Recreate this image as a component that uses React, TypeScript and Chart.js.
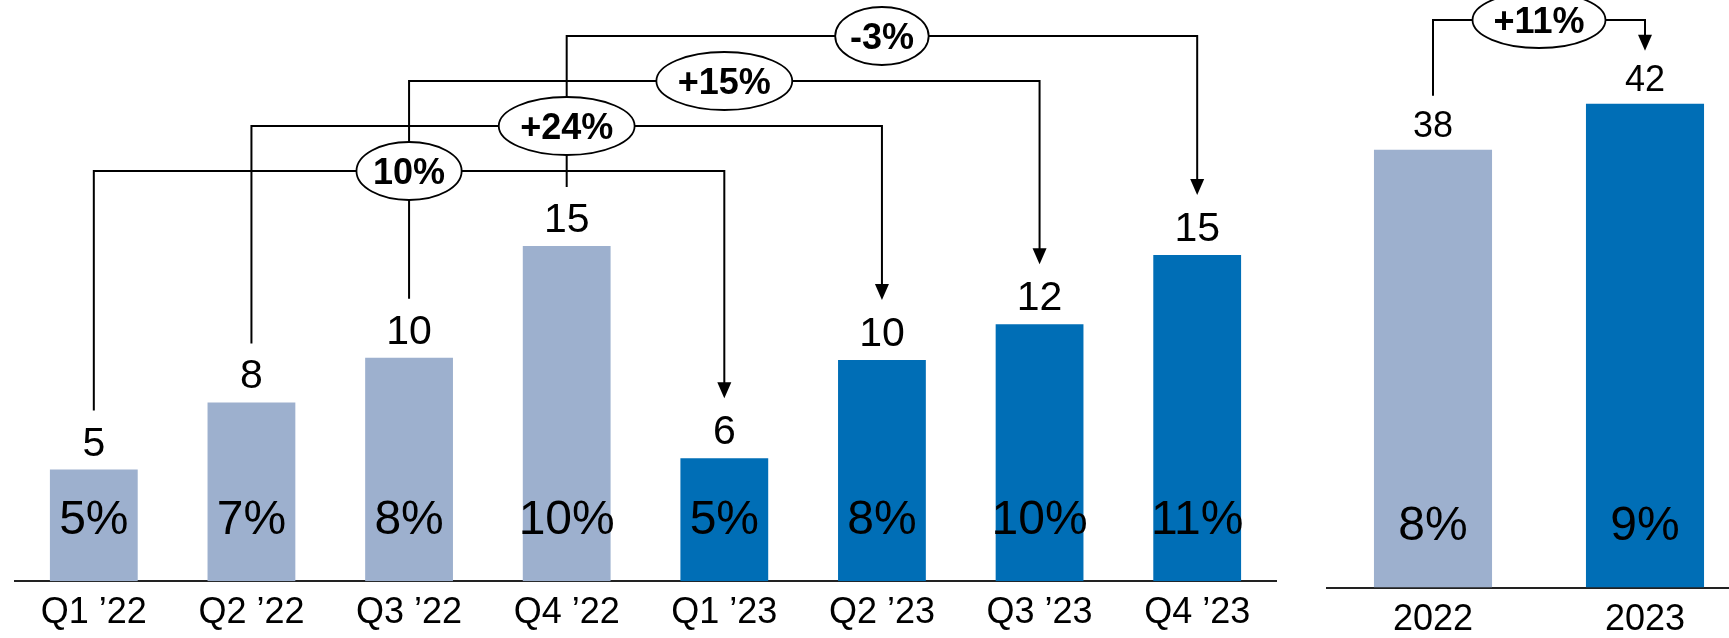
import { useEffect, useRef } from 'react';
import { Chart, registerables } from 'chart.js';

Chart.register(...registerables);

const FONT = '"Liberation Sans", Arial, Helvetica, sans-serif';
const LIGHT = '#9DB0CE';
const DARK = '#006EB6';

// Quarterly panel
const quarterLabels = ['Q1 ’22', 'Q2 ’22', 'Q3 ’22', 'Q4 ’22', 'Q1 ’23', 'Q2 ’23', 'Q3 ’23', 'Q4 ’23'];
const quarterValues = [5, 8, 10, 15, 5.5, 9.9, 11.5, 14.6];
const quarterMargins = ['5%', '7%', '8%', '10%', '5%', '8%', '10%', '11%'];
const growthFrom = [0, 1, 2, 3];
const growthTo = [4, 5, 6, 7];
const growthLabels = ['10%', '+24%', '+15%', '-3%'];

// Annual panel
const yearLabels = ['2022', '2023'];
const yearValues = [38, 42];
const yearMargins = ['8%', '9%'];
const yearGrowthLabel = '+11%';

function arrowHead(ctx: CanvasRenderingContext2D, x: number, tipY: number) {
  ctx.beginPath();
  ctx.moveTo(x - 7, tipY - 16);
  ctx.lineTo(x + 7, tipY - 16);
  ctx.lineTo(x, tipY);
  ctx.closePath();
  ctx.fill();
}

function bubble(ctx: CanvasRenderingContext2D, x: number, y: number, text: string, ry: number) {
  ctx.font = `bold 36px ${FONT}`;
  const tw = ctx.measureText(text).width;
  const rx = tw * 0.73;
  ctx.beginPath();
  ctx.ellipse(x, y, rx, ry, 0, 0, Math.PI * 2);
  ctx.fillStyle = '#fff';
  ctx.fill();
  ctx.lineWidth = 1.8;
  ctx.strokeStyle = '#000';
  ctx.stroke();
  ctx.fillStyle = '#000';
  ctx.textAlign = 'center';
  ctx.textBaseline = 'alphabetic';
  ctx.fillText(text, x, y + 12.5);
}

const quarterPlugin = {
  id: 'quarterLabels',
  afterDatasetsDraw(chart: any) {
    const ctx: CanvasRenderingContext2D = chart.ctx;
    const meta = chart.getDatasetMeta(0);
    const bottom = chart.chartArea.bottom;
    ctx.save();
    ctx.fillStyle = '#000';
    ctx.textAlign = 'center';
    ctx.textBaseline = 'alphabetic';
    ctx.font = `48px ${FONT}`;
    meta.data.forEach((bar: any, i: number) => {
      ctx.fillText(quarterMargins[i], bar.x, bottom - 47);
    });
    ctx.font = `41px ${FONT}`;
    meta.data.forEach((bar: any, i: number) => {
      ctx.fillText(String(Math.round(quarterValues[i])), bar.x, bar.y - 14);
    });
    ctx.strokeStyle = '#000';
    ctx.lineWidth = 2;
    growthFrom.forEach((from, k) => {
      const a = meta.data[from];
      const b = meta.data[growthTo[k]];
      const levelY = 171 - 45 * k;
      const tipY = b.y - 60;
      ctx.beginPath();
      ctx.moveTo(a.x, a.y - 59);
      ctx.lineTo(a.x, levelY);
      ctx.lineTo(b.x, levelY);
      ctx.lineTo(b.x, tipY - 15);
      ctx.stroke();
      ctx.fillStyle = '#000';
      arrowHead(ctx, b.x, tipY);
    });
    growthFrom.forEach((from, k) => {
      const c = meta.data[from + 2];
      bubble(ctx, c.x, 171 - 45 * k, growthLabels[k], 29);
    });
    ctx.restore();
  },
};

const yearPlugin = {
  id: 'yearLabels',
  afterDatasetsDraw(chart: any) {
    const ctx: CanvasRenderingContext2D = chart.ctx;
    const meta = chart.getDatasetMeta(0);
    const bottom = chart.chartArea.bottom;
    ctx.save();
    ctx.fillStyle = '#000';
    ctx.textAlign = 'center';
    ctx.textBaseline = 'alphabetic';
    ctx.font = `48px ${FONT}`;
    meta.data.forEach((bar: any, i: number) => {
      ctx.fillText(yearMargins[i], bar.x, bottom - 48);
    });
    ctx.font = `36px ${FONT}`;
    meta.data.forEach((bar: any, i: number) => {
      ctx.fillText(String(yearValues[i]), bar.x, bar.y - 13);
    });
    const a = meta.data[0];
    const b = meta.data[1];
    const levelY = 20;
    const tipY = b.y - 53;
    ctx.strokeStyle = '#000';
    ctx.lineWidth = 2;
    ctx.beginPath();
    ctx.moveTo(a.x, a.y - 54);
    ctx.lineTo(a.x, levelY);
    ctx.lineTo(b.x, levelY);
    ctx.lineTo(b.x, tipY - 15);
    ctx.stroke();
    ctx.fillStyle = '#000';
    arrowHead(ctx, b.x, tipY);
    bubble(ctx, (a.x + b.x) / 2, levelY, yearGrowthLabel, 28);
    ctx.restore();
  },
};

function xScale(padding: number) {
  return {
    grid: { display: false, drawTicks: false },
    border: { display: true, color: '#222', width: 2 },
    ticks: {
      color: '#000',
      font: { family: FONT, size: 36, lineHeight: 1.2 },
      padding,
      maxRotation: 0,
      autoSkip: false,
    },
  };
}

export default function App() {
  const leftRef = useRef<HTMLCanvasElement>(null);
  const rightRef = useRef<HTMLCanvasElement>(null);

  useEffect(() => {
    const left = new Chart(leftRef.current as HTMLCanvasElement, {
      type: 'bar',
      data: {
        labels: quarterLabels,
        datasets: [
          {
            data: quarterValues,
            backgroundColor: quarterValues.map((_, i) => (i < 4 ? LIGHT : DARK)),
            borderWidth: 0,
            barPercentage: 0.557,
            categoryPercentage: 1,
          },
        ],
      },
      options: {
        responsive: false,
        animation: false,
        devicePixelRatio: 1,
        layout: { padding: { left: 15, right: 24, top: 0, bottom: 14.5 } },
        plugins: { legend: { display: false }, tooltip: { enabled: false } },
        scales: {
          x: xScale(10.5) as any,
          y: { display: false, min: 0, max: 26 },
        },
      },
      plugins: [quarterPlugin],
    });
    const right = new Chart(rightRef.current as HTMLCanvasElement, {
      type: 'bar',
      data: {
        labels: yearLabels,
        datasets: [
          {
            data: yearValues,
            backgroundColor: [LIGHT, DARK],
            borderWidth: 0,
            barPercentage: 0.557,
            categoryPercentage: 1,
          },
        ],
      },
      options: {
        responsive: false,
        animation: false,
        devicePixelRatio: 1,
        layout: { padding: { left: 27, right: 0, top: 0, bottom: 8.2 } },
        plugins: { legend: { display: false }, tooltip: { enabled: false } },
        scales: {
          x: xScale(10.5) as any,
          y: { display: false, min: 0, max: 51 },
        },
      },
      plugins: [yearPlugin],
    });
    return () => {
      left.destroy();
      right.destroy();
    };
  }, []);

  return (
    <div
      style={{
        position: 'fixed',
        left: 0,
        top: 0,
        width: 1729,
        height: 638,
        overflow: 'hidden',
        background: '#fff',
      }}
    >
      <canvas
        ref={leftRef}
        width={1300}
        height={660}
        style={{ position: 'absolute', left: 0, top: 0, width: 1300, height: 660 }}
      />
      <canvas
        ref={rightRef}
        width={451}
        height={660}
        style={{ position: 'absolute', left: 1300, top: 0, width: 451, height: 660 }}
      />
    </div>
  );
}
